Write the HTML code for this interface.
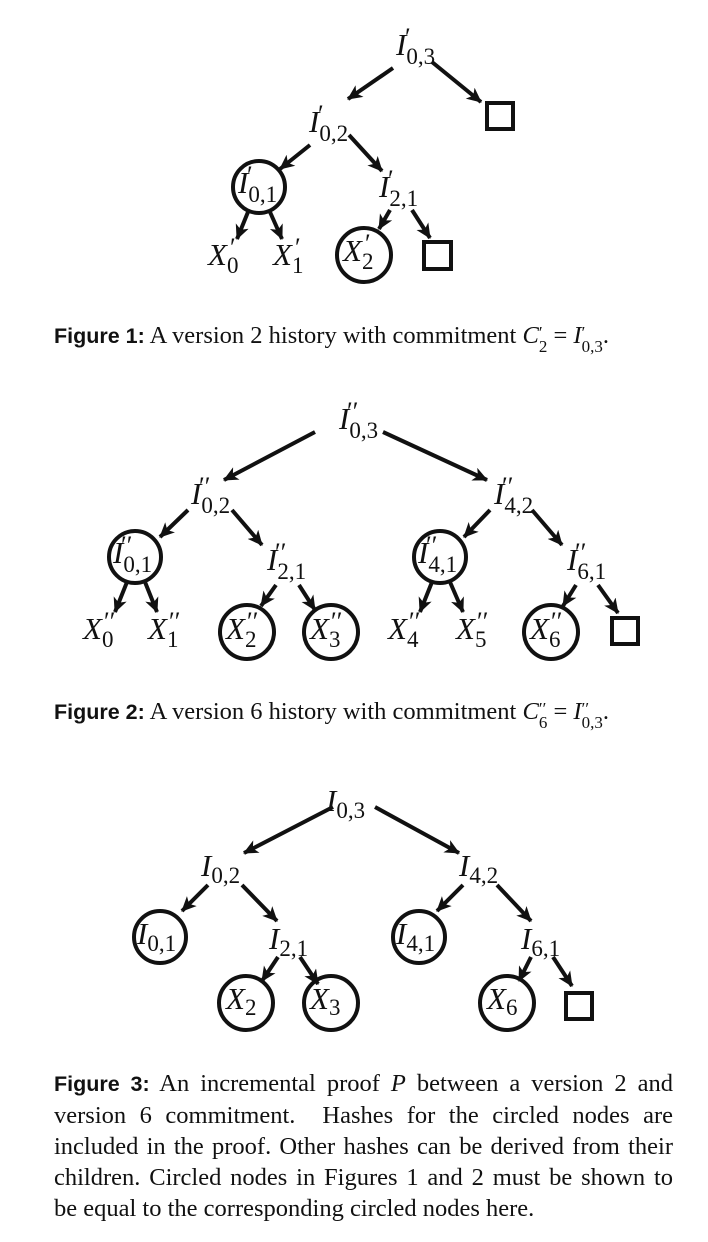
<!DOCTYPE html>
<html><head><meta charset="utf-8"><style>
html,body{margin:0;padding:0;background:#fff;}
body{width:708px;height:1242px;position:relative;overflow:hidden;}
svg{position:absolute;left:0;top:0;}
.cap{position:absolute;left:54px;font-family:"Liberation Serif",serif;font-size:24.5px;color:#111;white-space:nowrap;}
.b{font-family:"Liberation Sans",sans-serif;font-weight:bold;font-size:21.5px;}
.ps{display:inline-block;vertical-align:-9px;font-size:17px;line-height:14px;text-align:left;}
.c3{position:absolute;left:54px;top:1068px;width:619px;font-family:"Liberation Serif",serif;font-size:24.5px;line-height:31px;color:#111;}
.c3 div{text-align:justify;text-align-last:justify;white-space:nowrap;}
.c3 div.l{text-align-last:left;}
</style></head><body>
<svg width="708" height="1242" viewBox="0 0 708 1242" font-family="Liberation Serif, serif" fill="#111">
<defs>
<marker id="a" markerUnits="userSpaceOnUse" markerWidth="20" markerHeight="20" refX="14" refY="7" orient="auto">
<path d="M0,0 L15,7 L0,14 L4,7 Z" fill="#111"/>
</marker>
</defs>
<g stroke="#111" stroke-width="4" fill="none" marker-end="url(#a)">
<line x1="393" y1="68" x2="348" y2="99"/>
<line x1="432" y1="62" x2="481" y2="102"/>
<line x1="310" y1="145" x2="280" y2="169"/>
<line x1="349" y1="135" x2="382" y2="171"/>
<line x1="248" y1="212" x2="237" y2="239"/>
<line x1="270" y1="212" x2="282" y2="239"/>
<line x1="390" y1="210" x2="379" y2="229"/>
<line x1="412" y1="210" x2="430" y2="238"/>
<line x1="315" y1="432" x2="224" y2="480"/>
<line x1="383" y1="432" x2="487" y2="480"/>
<line x1="188" y1="510" x2="160" y2="537"/>
<line x1="232" y1="510" x2="262" y2="545"/>
<line x1="490" y1="510" x2="464" y2="537"/>
<line x1="532" y1="510" x2="562" y2="545"/>
<line x1="127" y1="582" x2="115" y2="612"/>
<line x1="145" y1="582" x2="157" y2="612"/>
<line x1="276" y1="585" x2="261" y2="606"/>
<line x1="299" y1="585" x2="315" y2="610"/>
<line x1="432" y1="582" x2="420" y2="612"/>
<line x1="450" y1="582" x2="463" y2="612"/>
<line x1="576" y1="585" x2="563" y2="606"/>
<line x1="598" y1="585" x2="618" y2="613"/>
<line x1="333" y1="807" x2="244" y2="853"/>
<line x1="375" y1="807" x2="459" y2="853"/>
<line x1="208" y1="885" x2="182" y2="911"/>
<line x1="242" y1="885" x2="277" y2="921"/>
<line x1="278" y1="957" x2="262" y2="981"/>
<line x1="300" y1="957" x2="318" y2="984"/>
<line x1="463" y1="885" x2="437" y2="911"/>
<line x1="497" y1="885" x2="531" y2="921"/>
<line x1="531" y1="957" x2="519" y2="981"/>
<line x1="553" y1="957" x2="572" y2="986"/>
</g>
<g stroke="#111" stroke-width="4" fill="none">
<circle cx="259" cy="187" r="26"/>
<circle cx="364" cy="255" r="27"/>
<rect x="424" y="242" width="27" height="27"/>
<rect x="487" y="103" width="26" height="26"/>
<circle cx="135" cy="557" r="26"/>
<circle cx="440" cy="557" r="26"/>
<circle cx="247" cy="632" r="27"/>
<circle cx="331" cy="632" r="27"/>
<circle cx="551" cy="632" r="27"/>
<rect x="612" y="618" width="26" height="26"/>
<circle cx="160" cy="937" r="26"/>
<circle cx="419" cy="937" r="26"/>
<circle cx="246" cy="1003" r="27"/>
<circle cx="331" cy="1003" r="27"/>
<circle cx="507" cy="1003" r="27"/>
<rect x="566" y="993" width="26" height="26"/>
</g>
<g font-size="31" font-style="italic">
<text x="396" y="55">I<tspan font-style="normal" font-size="23" dy="9">0,3</tspan></text><text x="405" y="46" font-size="26" font-style="normal">′</text>
<text x="309" y="132">I<tspan font-style="normal" font-size="23" dy="9">0,2</tspan></text><text x="318" y="123" font-size="26" font-style="normal">′</text>
<text x="238" y="193">I<tspan font-style="normal" font-size="23" dy="9">0,1</tspan></text><text x="247" y="184" font-size="26" font-style="normal">′</text>
<text x="379" y="197">I<tspan font-style="normal" font-size="23" dy="9">2,1</tspan></text><text x="388" y="188" font-size="26" font-style="normal">′</text>
<text x="208" y="265">X<tspan font-style="normal" font-size="23" dy="8">0</tspan></text><text x="230" y="256" font-size="26" font-style="normal">′</text>
<text x="273" y="265">X<tspan font-style="normal" font-size="23" dy="8">1</tspan></text><text x="295" y="256" font-size="26" font-style="normal">′</text>
<text x="343" y="261">X<tspan font-style="normal" font-size="23" dy="8">2</tspan></text><text x="365" y="252" font-size="26" font-style="normal">′</text>
<text x="339" y="429">I<tspan font-style="normal" font-size="23" dy="9">0,3</tspan></text><text x="347" y="420" font-size="26" font-style="normal">′′</text>
<text x="191" y="504">I<tspan font-style="normal" font-size="23" dy="9">0,2</tspan></text><text x="199" y="495" font-size="26" font-style="normal">′′</text>
<text x="494" y="504">I<tspan font-style="normal" font-size="23" dy="9">4,2</tspan></text><text x="502" y="495" font-size="26" font-style="normal">′′</text>
<text x="113" y="563">I<tspan font-style="normal" font-size="23" dy="9">0,1</tspan></text><text x="121" y="554" font-size="26" font-style="normal">′′</text>
<text x="267" y="570">I<tspan font-style="normal" font-size="23" dy="9">2,1</tspan></text><text x="275" y="561" font-size="26" font-style="normal">′′</text>
<text x="418" y="563">I<tspan font-style="normal" font-size="23" dy="9">4,1</tspan></text><text x="426" y="554" font-size="26" font-style="normal">′′</text>
<text x="567" y="570">I<tspan font-style="normal" font-size="23" dy="9">6,1</tspan></text><text x="575" y="561" font-size="26" font-style="normal">′′</text>
<text x="83" y="639">X<tspan font-style="normal" font-size="23" dy="8">0</tspan></text><text x="104" y="630" font-size="26" font-style="normal">′′</text>
<text x="148" y="639">X<tspan font-style="normal" font-size="23" dy="8">1</tspan></text><text x="169" y="630" font-size="26" font-style="normal">′′</text>
<text x="226" y="639">X<tspan font-style="normal" font-size="23" dy="8">2</tspan></text><text x="247" y="630" font-size="26" font-style="normal">′′</text>
<text x="310" y="639">X<tspan font-style="normal" font-size="23" dy="8">3</tspan></text><text x="331" y="630" font-size="26" font-style="normal">′′</text>
<text x="388" y="639">X<tspan font-style="normal" font-size="23" dy="8">4</tspan></text><text x="409" y="630" font-size="26" font-style="normal">′′</text>
<text x="456" y="639">X<tspan font-style="normal" font-size="23" dy="8">5</tspan></text><text x="477" y="630" font-size="26" font-style="normal">′′</text>
<text x="530" y="639">X<tspan font-style="normal" font-size="23" dy="8">6</tspan></text><text x="551" y="630" font-size="26" font-style="normal">′′</text>
<text x="326" y="811">I<tspan font-style="normal" font-size="23" dy="7">0,3</tspan></text>
<text x="201" y="876">I<tspan font-style="normal" font-size="23" dy="7">0,2</tspan></text>
<text x="459" y="876">I<tspan font-style="normal" font-size="23" dy="7">4,2</tspan></text>
<text x="137" y="944">I<tspan font-style="normal" font-size="23" dy="7">0,1</tspan></text>
<text x="396" y="944">I<tspan font-style="normal" font-size="23" dy="7">4,1</tspan></text>
<text x="269" y="949">I<tspan font-style="normal" font-size="23" dy="7">2,1</tspan></text>
<text x="521" y="949">I<tspan font-style="normal" font-size="23" dy="7">6,1</tspan></text>
<text x="226" y="1009">X<tspan font-style="normal" font-size="23" dy="6">2</tspan></text>
<text x="310" y="1009">X<tspan font-style="normal" font-size="23" dy="6">3</tspan></text>
<text x="487" y="1009">X<tspan font-style="normal" font-size="23" dy="6">6</tspan></text>
</g>
</svg>
<div class="cap" style="top:322px;"><span class="b">Figure 1:</span> A version 2 history with commitment <i>C</i><span class="ps">′<br>2</span> = <i>I</i><span class="ps">′<br>0,3</span>.</div>
<div class="cap" style="top:698px;"><span class="b">Figure 2:</span> A version 6 history with commitment <i>C</i><span class="ps">′′<br>6</span> = <i>I</i><span class="ps">′′<br>0,3</span>.</div>
<div class="c3">
<div><span class="b">Figure 3:</span> An incremental proof <i>P</i> between a version 2 and</div>
<div>version 6 commitment. &nbsp;Hashes for the circled nodes are</div>
<div>included in the proof. Other hashes can be derived from their</div>
<div>children. Circled nodes in Figures 1 and 2 must be shown to</div>
<div class="l">be equal to the corresponding circled nodes here.</div>
</div>
</body></html>
